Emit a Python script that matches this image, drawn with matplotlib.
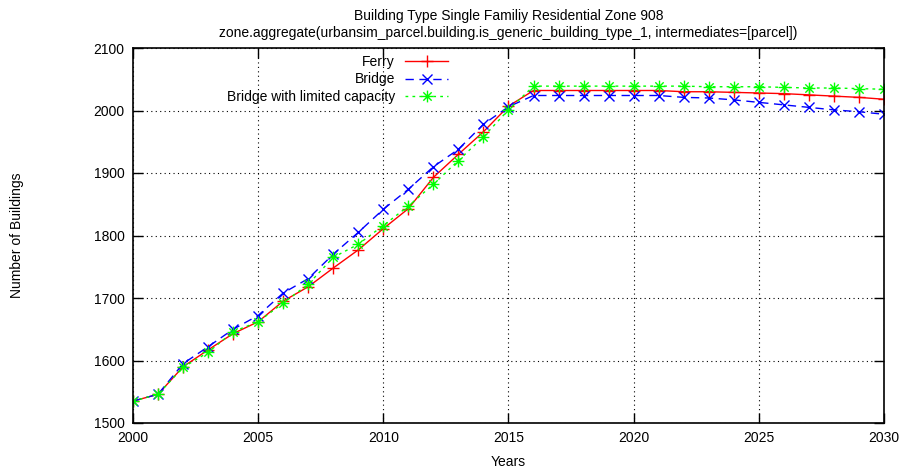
import matplotlib
matplotlib.use("Agg")
import matplotlib.pyplot as plt
from matplotlib.path import Path

plt.rcParams['font.family'] = ['Liberation Sans', 'DejaVu Sans']
plt.rcParams['font.size'] = 9

years = list(range(2000, 2031))

ferry = [1535, 1546, 1590, 1617, 1643, 1662, 1695, 1718, 1748, 1777, 1811,
         1843, 1893, 1930, 1966, 2007, 2032, 2032, 2032, 2032, 2032, 2032,
         2030, 2030, 2029, 2028, 2027, 2025, 2023, 2021, 2018]
bridge = [1535, 1546, 1595, 1622, 1650, 1672, 1708, 1731, 1770, 1805, 1842,
          1874, 1910, 1938, 1978, 2006, 2024, 2024, 2024, 2024, 2024, 2024,
          2021, 2020, 2017, 2013, 2009, 2005, 2001, 1998, 1994]
limited = [1535, 1546, 1589, 1613, 1646, 1662, 1692, 1722, 1765, 1786, 1816,
           1847, 1882, 1920, 1958, 2001, 2039, 2039, 2039, 2039, 2039, 2039,
           2039, 2038, 2038, 2038, 2037, 2036, 2036, 2035, 2034]

series_labels = ["Ferry", "Bridge", "Bridge with limited capacity"]

x_ticks = [2000, 2005, 2010, 2015, 2020, 2025, 2030]
y_ticks = [1500, 1600, 1700, 1800, 1900, 2000, 2100]

# asterisk marker: plus and cross overlaid
star_path = Path(
    [(-1, 0), (1, 0), (0, -1), (0, 1),
     (-0.707, -0.707), (0.707, 0.707), (-0.707, 0.707), (0.707, -0.707)],
    [Path.MOVETO, Path.LINETO] * 4,
)

fig = plt.figure(figsize=(9.04, 4.72), dpi=100)
ax = fig.add_axes([133 / 904, 1 - 423 / 472, 751 / 904, 375 / 472])

ax.plot(years, ferry, color="#ff0000", lw=1.0, ls="-", marker="+",
        ms=9, mew=1.0, label=series_labels[0])
ax.plot(years, bridge, color="#0000ff", lw=1.0, ls=(0, (6, 4)), marker="x",
        ms=7, mew=1.0, label=series_labels[1])
ax.plot(years, limited, color="#00ff00", lw=1.0, ls=(0, (2, 3)),
        marker=star_path, ms=8.5, mew=1.0, mfc="none", mec="#00ff00",
        label=series_labels[2])

ax.set_xlim(2000, 2030)
ax.set_ylim(1500, 2100)
ax.set_xticks(x_ticks)
ax.set_yticks(y_ticks)
ax.tick_params(direction="in", length=7, width=1, top=True, right=True,
               labelsize=10, pad=6)
ax.grid(True, color="black", ls=(0, (1, 3)), lw=0.8)
for s in ax.spines.values():
    s.set_linewidth(1.2)

ax.set_xlabel("Years", fontsize=10, labelpad=7)
ax.set_ylabel("Number of Buildings", fontsize=10, labelpad=50)
ax.set_title("Building Type Single Familiy Residential Zone 908\n"
             "zone.aggregate(urbansim_parcel.building.is_generic_building_type_1, "
             "intermediates=[parcel])", fontsize=10, linespacing=1.25, pad=8)

leg = ax.legend(loc="upper right", bbox_to_anchor=(0.429, 1.0), frameon=False,
                markerfirst=False, handlelength=3.1, handletextpad=0.75,
                labelspacing=0.25, borderpad=0.3, borderaxespad=0.2,
                fontsize=10)

fig.savefig("out.png", dpi=100)
